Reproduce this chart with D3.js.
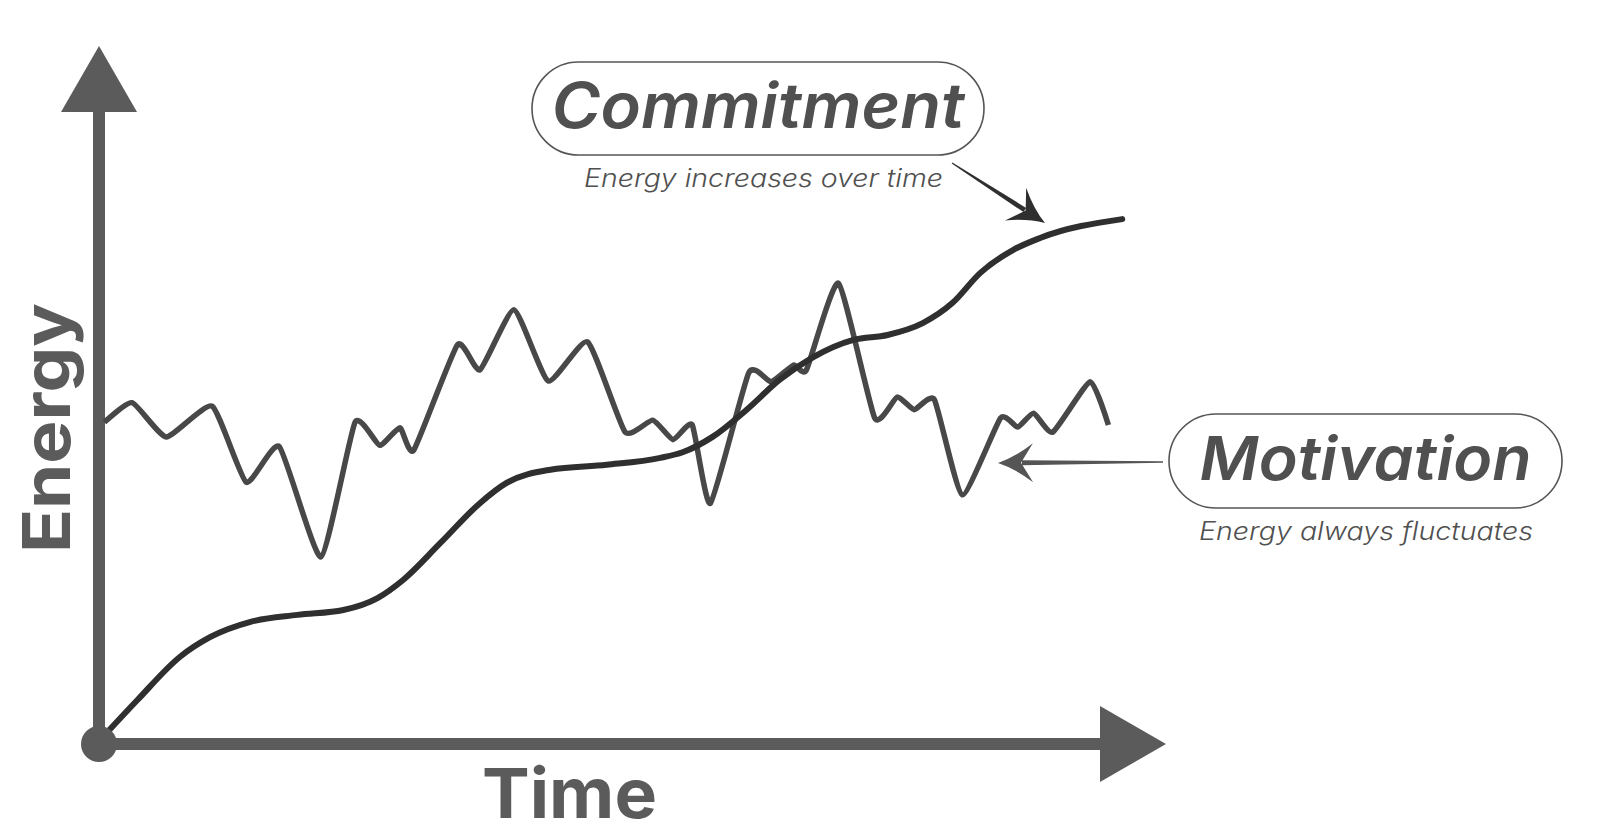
<!DOCTYPE html>
<html><head><meta charset="utf-8">
<script src="https://cdn.jsdelivr.net/npm/d3@7"></script>
<style>html,body{margin:0;padding:0;background:#fff;} svg{display:block;}</style>
</head><body>
<svg id="chart" width="1600" height="836"></svg>
<script>
// ---- data (time 0..100, energy 0..100) ----
const motivationTime   = [0.5, 3.1, 6.3, 10.6, 13.8, 16.9, 20.8, 24.0, 26.3, 28.2, 29.5, 33.6, 35.7, 38.9, 42.1, 45.8, 49.3, 51.9, 53.8, 55.6, 57.3, 60.9, 63.0, 65.1, 66.3, 69.3, 72.7, 74.8, 76.4, 78.3, 80.9, 84.5, 86.1, 87.6, 89.4, 92.9, 94.6];
const motivationEnergy = [46.1, 48.9, 44.0, 48.4, 37.5, 42.6, 26.8, 46.1, 42.8, 45.3, 42.1, 57.2, 53.6, 62.2, 52.0, 57.6, 44.7, 46.4, 43.6, 45.7, 34.5, 53.2, 51.9, 54.3, 53.6, 66.0, 46.7, 49.7, 47.9, 49.3, 35.7, 46.7, 45.4, 47.4, 44.7, 51.9, 45.7];
const commitmentTime   = [0.3, 3.6, 7.6, 10.4, 14.2, 18.6, 22.9, 26.1, 28.5, 32.0, 35.7, 38.2, 42.3, 47.6, 52.6, 54.7, 57.5, 60.7, 63.8, 66.9, 70.7, 73.9, 77.2, 80.0, 82.6, 85.7, 88.2, 95.9];
const commitmentEnergy = [0.9, 6.3, 12.5, 15.3, 17.5, 18.5, 19.2, 20.9, 23.5, 28.8, 34.5, 37.4, 39.3, 40.0, 41.0, 41.8, 44.0, 47.9, 52.2, 55.4, 57.9, 58.6, 60.3, 63.2, 67.5, 70.8, 72.5, 75.2];
const axisTitles  = ["Time", "Energy"];
const seriesNames = ["Commitment", "Motivation"];
const seriesNotes = ["Energy increases over time", "Energy always fluctuates"];

const svg = d3.select("#chart");
const x = d3.scaleLinear().domain([0, 100]).range([99, 1166]);
const y = d3.scaleLinear().domain([0, 100]).range([744, 46]);

const axisColor = "#5b5b5b";
const headLen = 66, headHalf = 38;

// axes
svg.append("line").attr("x1", x(0)).attr("y1", y(0)).attr("x2", x(0)).attr("y2", y(100) + headLen)
  .attr("stroke", axisColor).attr("stroke-width", 12);
svg.append("line").attr("x1", x(0)).attr("y1", y(0)).attr("x2", x(100) - headLen).attr("y2", y(0))
  .attr("stroke", axisColor).attr("stroke-width", 12);
svg.append("path").attr("fill", axisColor)
  .attr("d", `M${x(0)},${y(100)} L${x(0) + headHalf},${y(100) + headLen} L${x(0) - headHalf},${y(100) + headLen} Z`);
svg.append("path").attr("fill", axisColor)
  .attr("d", `M${x(100)},${y(0)} L${x(100) - headLen},${y(0) - headHalf} L${x(100) - headLen},${y(0) + headHalf} Z`);

// axis titles
svg.append("text").text(axisTitles[0])
  .attr("x", 482).attr("y", 818)
  .attr("font-family", "Inter, 'Noto Sans', sans-serif").attr("font-weight", 700)
  .attr("font-size", 69).attr("fill", axisColor)
  .attr("textLength", 175).attr("lengthAdjust", "spacingAndGlyphs");
svg.append("text").text(axisTitles[1])
  .attr("transform", "translate(70,428) rotate(-90)")
  .attr("text-anchor", "middle")
  .attr("font-family", "Inter, 'Noto Sans', sans-serif").attr("font-weight", 700)
  .attr("font-size", 66).attr("fill", axisColor)
  .attr("textLength", 250).attr("lengthAdjust", "spacingAndGlyphs");

// lines
const motivation = motivationTime.map((t, i) => [t, motivationEnergy[i]]);
const commitment = commitmentTime.map((t, i) => [t, commitmentEnergy[i]]);

svg.append("path").datum(motivation)
  .attr("fill", "none").attr("stroke", "#484848").attr("stroke-width", 5.5)
  .attr("stroke-linejoin", "round").attr("stroke-linecap", "butt")
  .attr("d", d3.line().x(d => x(d[0])).y(d => y(d[1])).curve(d3.curveCardinal.tension(0.5)));

svg.append("path").datum(commitment)
  .attr("fill", "none").attr("stroke", "#2f2f2f").attr("stroke-width", 6)
  .attr("stroke-linecap", "round")
  .attr("d", d3.line().x(d => x(d[0])).y(d => y(d[1])).curve(d3.curveMonotoneX));

// origin dot
svg.append("circle").attr("cx", x(0)).attr("cy", y(0)).attr("r", 18).attr("fill", axisColor);

// annotation arrows (tapered shaft + swept head)
function annotArrow(x0, y0, x1, y1, w0, w1, color) {
  const L = Math.hypot(x1 - x0, y1 - y0);
  const dx = (x1 - x0) / L, dy = (y1 - y0) / L;
  const nx = -dy, ny = dx;
  const hl = 35, hh = 19.5, notch = 23;
  const jx = x1 - dx * (notch + 1), jy = y1 - dy * (notch + 1);
  const shaft = [
    [x0 + nx * w0 / 2, y0 + ny * w0 / 2],
    [jx + nx * w1 / 2, jy + ny * w1 / 2],
    [jx - nx * w1 / 2, jy - ny * w1 / 2],
    [x0 - nx * w0 / 2, y0 - ny * w0 / 2]
  ];
  svg.append("path").attr("fill", color)
    .attr("d", "M" + shaft.map(p => p.join(",")).join("L") + "Z");
  const b1 = [x1 - dx * hl + nx * hh, y1 - dy * hl + ny * hh];
  const b2 = [x1 - dx * hl - nx * hh, y1 - dy * hl - ny * hh];
  const c1 = [x1 - dx * hl * 0.5 + nx * hh * 0.3, y1 - dy * hl * 0.5 + ny * hh * 0.3];
  const c2 = [x1 - dx * hl * 0.5 - nx * hh * 0.3, y1 - dy * hl * 0.5 - ny * hh * 0.3];
  const np = [x1 - dx * notch, y1 - dy * notch];
  svg.append("path").attr("fill", color)
    .attr("d", `M${x1},${y1} Q${c1[0]},${c1[1]} ${b1[0]},${b1[1]} L${np[0]},${np[1]} L${b2[0]},${b2[1]} Q${c2[0]},${c2[1]} ${x1},${y1} Z`);
}
annotArrow(952, 163, 1045, 223, 1.2, 5, "#2f2f2f");
annotArrow(1163, 462, 998, 463, 1.5, 5, "#555");

// labels
const labelFont = "Inter, 'Noto Sans', sans-serif";
function labelBox(bx, by, bw, bh, name, nameLen, nameSize, nameBase, note, noteLen, noteBase, noteX) {
  svg.append("rect").attr("x", bx).attr("y", by).attr("width", bw).attr("height", bh)
    .attr("rx", bh / 2).attr("ry", bh / 2)
    .attr("fill", "none").attr("stroke", "#555").attr("stroke-width", 1.6);
  svg.append("text").text(name)
    .attr("x", bx + (bw - nameLen) / 2).attr("y", nameBase)
    .attr("font-family", labelFont).attr("font-weight", 600).attr("font-style", "italic")
    .attr("font-size", nameSize).attr("fill", "#505050")
    .attr("textLength", nameLen).attr("lengthAdjust", "spacingAndGlyphs");
  svg.append("text").text(note)
    .attr("x", noteX).attr("y", noteBase)
    .attr("font-family", labelFont).attr("font-weight", 300).attr("font-style", "italic")
    .attr("font-size", 25).attr("fill", "#505050")
    .attr("textLength", noteLen).attr("lengthAdjust", "spacingAndGlyphs");
}
labelBox(532, 62, 452, 93, seriesNames[0], 413, 63, 128, seriesNotes[0], 359, 187, 584);
labelBox(1169, 414, 393, 94, seriesNames[1], 332, 61, 480, seriesNotes[1], 334, 540, 1199);
</script>
</body></html>
